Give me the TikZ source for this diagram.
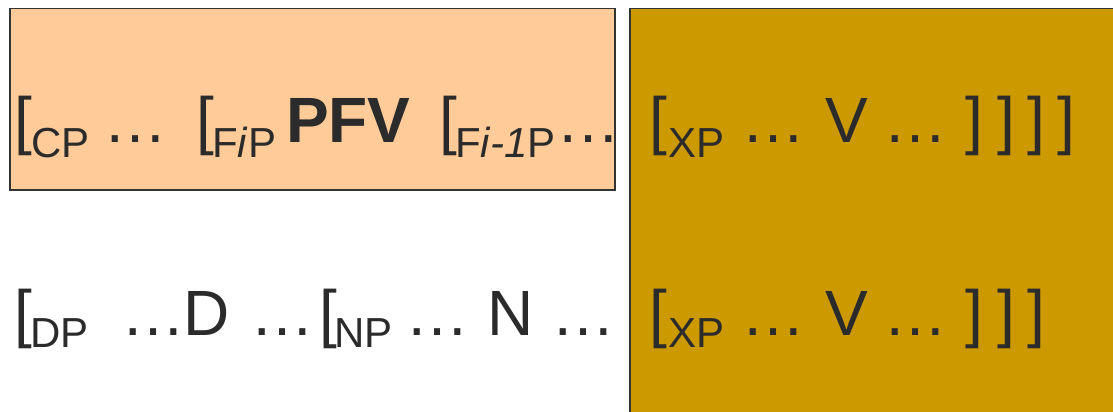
\documentclass[tikz,border=0pt]{standalone}
\usepackage{fontspec}
\setmainfont{Liberation Sans}
\definecolor{peach}{HTML}{FFCC99}
\definecolor{gold}{HTML}{CC9900}
\definecolor{edge}{HTML}{333333}
\definecolor{ink}{HTML}{2B2B2B}
\tikzset{
  big/.style={font=\fontsize{64}{72}\selectfont, anchor=base west, inner sep=0pt, text=ink},
  bigbold/.style={font=\fontsize{64}{72}\selectfont\bfseries, anchor=base west, inner sep=0pt, text=ink},
  small/.style={font=\fontsize{42}{48}\selectfont, anchor=base west, inner sep=0pt, text=ink},
  panel/.style={draw=edge, line width=1.5pt}
}
\begin{document}
\begin{tikzpicture}[x=1pt,y=-1pt]
\useasboundingbox (0,0) rectangle (1113,412);
\clip (0,0) rectangle (1113,412);
\fill[white] (0,0) rectangle (1113,412);
% panels
\filldraw[panel, fill=peach] (10,8.5) rectangle (615,190);
\filldraw[panel, fill=gold] (630,8.5) rectangle (1130,430);
% row 1 (peach)
\node[big]   (a1) at (14,142)  {[};
\node[small] (a2) at (31,157)  {CP};
\node[big]   (a3) at (103,142) {…};
\node[big]   (a4) at (196,142) {[};
\node[small] (a5) at (212,157) {F\textit{i}P};
\node[bigbold] (a6) at (286,142) {PFV};
\node[big]   (a7) at (439,142) {[};
\node[small] (a8) at (455,157) {F\textit{i-1}P};
\node[big]   (a9) at (556,142) {…};
% row 1 (gold)
\node[big]   (b1) at (649,142) {[};
\node[small] (b2) at (668,157) {XP};
\node[big]   (b3) at (741,142) {…};
\node[big]   (b4) at (825,142) {V};
\node[big]   (b5) at (883,142) {…};
\node[big]   (b6) at (965,142) {]};
\node[big]   (b7) at (997,142) {]};
\node[big]   (b8) at (1027,142) {]};
\node[big]   (b9) at (1057,142) {]};
% row 2 (white)
\node[big]   (c1) at (14,335)  {[};
\node[small] (c2) at (30,347)  {DP};
\node[big]   (c3) at (121,335) {…};
\node[big]   (c4) at (183,335) {D};
\node[big]   (c5) at (250,335) {…};
\node[big]   (c6) at (319,335) {[};
\node[small] (c7) at (334,347) {NP};
\node[big]   (c8) at (405,335) {…};
\node[big]   (c9) at (487,335) {N};
\node[big]   (c10) at (551,335) {…};
% row 2 (gold)
\node[big]   (d1) at (649,335) {[};
\node[small] (d2) at (668,347) {XP};
\node[big]   (d3) at (741,335) {…};
\node[big]   (d4) at (825,335) {V};
\node[big]   (d5) at (883,335) {…};
\node[big]   (d6) at (965,335) {]};
\node[big]   (d7) at (997,335) {]};
\node[big]   (d8) at (1027,335) {]};
\end{tikzpicture}
\end{document}
